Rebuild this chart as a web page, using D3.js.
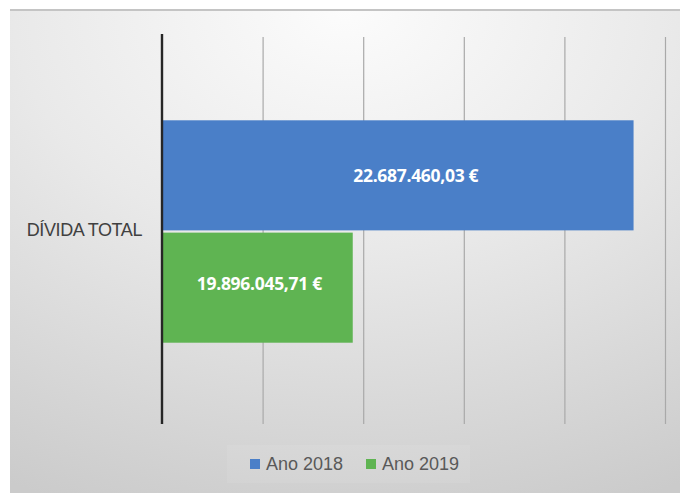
<!DOCTYPE html>
<html>
<head>
<meta charset="utf-8">
<script src="https://cdn.jsdelivr.net/npm/d3@7"></script>
<style>
  html, body { margin: 0; padding: 0; background: #fff; }
  svg { display: block; }
</style>
</head>
<body>
<svg id="chart" width="680" height="493"></svg>
<script>
// Dívida total por ano (euros)
const categories = ["DÍVIDA TOTAL"];
const seriesNames = ["Ano 2018", "Ano 2019"];
const seriesValues = [22687460.03, 19896045.71];
const seriesColors = ["#4a7fc8", "#5fb452"];
const valueLabels = ["22.687.460,03 €", "19.896.045,71 €"];
const xTicks = [18000000, 19000000, 20000000, 21000000, 22000000, 23000000];

const W = 680, H = 493;
const svg = d3.select("#chart");

// frame background with soft gradient
const defs = svg.append("defs");
const grad = defs.append("radialGradient")
  .attr("id", "bg").attr("cx", "50%").attr("cy", "0%").attr("r", "110%")
  .attr("fx", "50%").attr("fy", "0%");
grad.append("stop").attr("offset", "0%").attr("stop-color", "#fcfcfc");
grad.append("stop").attr("offset", "45%").attr("stop-color", "#e9e9e9");
grad.append("stop").attr("offset", "100%").attr("stop-color", "#cbcbcb");

const frame = { x: 10, y: 9, w: W - 10, h: H - 9 };
svg.append("rect").attr("x", frame.x).attr("y", frame.y)
  .attr("width", frame.w).attr("height", frame.h).attr("fill", "url(#bg)");
svg.append("line").attr("x1", frame.x).attr("x2", W)
  .attr("y1", frame.y + 1).attr("y2", frame.y + 1)
  .attr("stroke", "#c4c4c4").attr("stroke-width", 2);

const plot = { left: 162, right: 665, top: 37, bottom: 424 };

const x = d3.scaleLinear().domain([18000000, 23000000]).range([plot.left, plot.right]);
const y0 = d3.scaleBand().domain(categories).range([plot.top, plot.bottom]).paddingInner(0).paddingOuter(0.37);
const y1 = d3.scaleBand().domain(seriesNames).range([0, y0.bandwidth()]).paddingInner(0.02);

// vertical gridlines
const grid = svg.append("g")
  .attr("transform", `translate(0,${plot.bottom})`)
  .call(d3.axisBottom(x).tickValues(xTicks.slice(1)).tickSize(-(plot.bottom - plot.top)).tickFormat(""));
grid.select(".domain").remove();
grid.selectAll(".tick line").attr("stroke", "#a9a9a9").attr("stroke-width", 1.2);

// bars
const groups = svg.append("g").selectAll("g").data(categories).join("g")
  .attr("transform", d => `translate(0,${y0(d) + 1})`);

const rows = seriesNames.map((s, i) => ({ s, v: seriesValues[i], c: seriesColors[i], label: valueLabels[i] }));

groups.selectAll("rect").data(rows).join("rect")
  .attr("x", x(18000000))
  .attr("y", d => y1(d.s))
  .attr("width", d => x(d.v) - x(18000000))
  .attr("height", y1.bandwidth())
  .attr("fill", d => d.c);

// value labels inside bars
const labelShift = [18, 2];
const labelRise = [1, -4];
groups.selectAll("text.val").data(rows).join("text")
  .attr("class", "val")
  .attr("x", (d, i) => (x(18000000) + x(d.v)) / 2 + labelShift[i])
  .attr("y", (d, i) => y1(d.s) + y1.bandwidth() / 2 + labelRise[i])
  .attr("dy", "0.35em")
  .attr("text-anchor", "middle")
  .attr("fill", "#ffffff")
  .attr("font-family", "Open Sans, sans-serif")
  .attr("font-weight", "bold")
  .attr("font-size", 17.5)
  .attr("letter-spacing", -0.3)
  .text(d => d.label);

// category axis
const yAxis = svg.append("g")
  .attr("transform", `translate(${plot.left},0)`)
  .call(d3.axisLeft(y0).tickSize(0).tickPadding(20));
yAxis.select(".domain").remove();
yAxis.selectAll("text")
  .attr("fill", "#404040")
  .attr("font-family", "Liberation Sans, sans-serif")
  .attr("font-size", 18)
  .attr("letter-spacing", -0.4);

svg.append("line")
  .attr("x1", plot.left).attr("x2", plot.left)
  .attr("y1", plot.top - 3).attr("y2", plot.bottom)
  .attr("stroke", "#262626").attr("stroke-width", 2.4);

// legend
svg.append("rect").attr("x", 227).attr("y", 445).attr("width", 243).attr("height", 38)
  .attr("fill", "#ffffff").attr("opacity", 0.07);
const legend = svg.append("g").attr("transform", "translate(250,464)");
const items = legend.selectAll("g").data(rows).join("g")
  .attr("transform", (d, i) => `translate(${i * 116},0)`);
items.append("rect").attr("x", 0).attr("y", -5).attr("width", 10).attr("height", 10).attr("fill", d => d.c);
items.append("text").attr("x", 16).attr("y", 0).attr("dy", "0.35em")
  .attr("fill", "#595959")
  .attr("font-family", "Liberation Sans, sans-serif")
  .attr("font-size", 18)
  .text(d => d.s);
</script>
</body>
</html>
